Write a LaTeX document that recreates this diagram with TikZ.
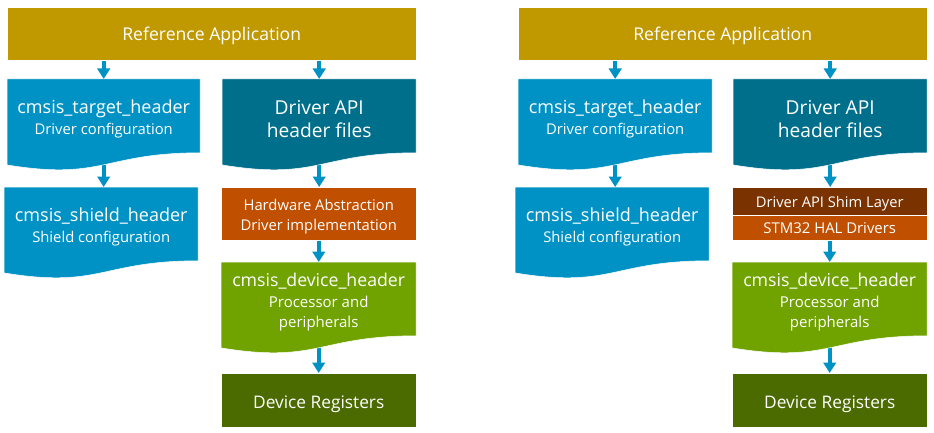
\documentclass[tikz,border=0pt]{standalone}
\usepackage{fontspec}
\setmainfont{Open Sans}
\usetikzlibrary{arrows.meta}
\pgfdeclarelayer{bg}
\pgfsetlayers{bg,main}
\definecolor{cgold}{RGB}{192,152,0}
\definecolor{cblue}{RGB}{0,146,196}
\definecolor{cteal}{RGB}{0,111,140}
\definecolor{corange}{RGB}{192,80,0}
\definecolor{cbrown}{RGB}{122,51,0}
\definecolor{cgreen}{RGB}{112,162,0}
\definecolor{cdkgreen}{RGB}{75,107,0}
\tikzset{
  box/.style={rectangle, draw=white, line width=0.5pt, text=white, inner sep=0pt, align=center, anchor=north west},
  docbox/.style={rectangle, text=white, inner sep=0pt, align=center, anchor=north west},
  arr/.style={draw=cblue, line width=3.6pt, -{Triangle[width=12.5pt,length=10.5pt]}},
}
\newcommand\fs[2]{\fontsize{#1}{#2}\selectfont}
% name, x, y, w, color, font, text
\newcommand\docnode[7]{%
  \filldraw[fill=#5, draw=white, line width=0.5pt] (#2,#3) -- ({#2+#4},#3) -- ({#2+#4},{#3+73.8})
    .. controls +({-#4/2},0) and +({#4/2},15.9) .. (#2,{#3+85.9}) -- cycle;
  \node[docbox, minimum width=#4pt, minimum height=79.8pt, font=#6] (#1) at (#2,#3) {#7};
}
\newcommand\tgttext{\fs{18}{21}cmsis\_target\_header\\\fs{14.8}{21}Driver configuration}
\newcommand\shdtext{\fs{18}{21}cmsis\_shield\_header\\\fs{14.8}{21}Shield configuration}
\newcommand\apitext{\fs{19.2}{23}Driver API\\\fs{19.2}{23}header files}
\newcommand\devtext{\fs{17.7}{21}cmsis\_device\_header\\\fs{15}{20}Processor and\\\fs{15}{20}peripherals}
\begin{document}
\begin{tikzpicture}[x=1pt,y=-1pt]
\useasboundingbox (0,0) rectangle (934,433);
% ---------- left ----------
\node[box, fill=cgold, minimum width=409pt, minimum height=53pt, font=\fs{17.6}{20}, text height=13pt, text depth=0pt] (topL) at (7,7) {Reference Application};
\docnode{tgtL}{7}{79}{193}{cblue}{\fs{14.8}{21}}{\tgttext}
\docnode{apiL}{222}{79}{194}{cteal}{\fs{19.2}{23}}{\apitext}
\docnode{shdL}{4}{187}{194}{cblue}{\fs{14.8}{21}}{\shdtext}
\node[box, fill=corange, minimum width=195pt, minimum height=53pt, font=\fs{14.8}{20.5}] (halL) at (221,187) {\fs{14.8}{20.5}\rule{0pt}{17.5pt}Hardware Abstraction\\\fs{14.8}{20.5}Driver implementation};
\docnode{devL}{221}{262}{195}{cgreen}{\fs{15}{20.5}}{\devtext}
\node[box, fill=cdkgreen, minimum width=195pt, minimum height=54pt, font=\fs{17.3}{20}, text height=15.5pt, text depth=0pt] (regL) at (221,373) {Device Registers};
% ---------- right ----------
\node[box, fill=cgold, minimum width=409pt, minimum height=53pt, font=\fs{17.6}{20}, text height=13pt, text depth=0pt] (topR) at (518,7) {Reference Application};
\docnode{tgtR}{518}{79}{194}{cblue}{\fs{14.8}{21}}{\tgttext}
\docnode{apiR}{733}{79}{194}{cteal}{\fs{19.2}{23}}{\apitext}
\docnode{shdR}{515}{187}{194}{cblue}{\fs{14.8}{21}}{\shdtext}
\node[box, fill=cbrown, minimum width=195pt, minimum height=28pt, font=\fs{14.7}{18}, text height=12pt, text depth=0pt] (shimR) at (732,187) {Driver API Shim Layer};
\node[box, fill=corange, minimum width=195pt, minimum height=25pt, font=\fs{14.9}{18}, text height=12pt, text depth=0pt] (halR) at (732,215) {STM32 HAL Drivers};
\docnode{devR}{732}{262}{195}{cgreen}{\fs{15}{20.5}}{\devtext}
\node[box, fill=cdkgreen, minimum width=195pt, minimum height=54pt, font=\fs{17.3}{20}, text height=15.5pt, text depth=0pt] (regR) at (732,373) {Device Registers};
% ---------- arrows ----------
\begin{pgfonlayer}{bg}
\fill[white] (0,0) rectangle (934,433);
\draw[arr] (topL.south -| tgtL.north) -- (tgtL.north);
\draw[arr] (topL.south -| apiL.north) -- (apiL.north);
\draw[arr] (tgtL.south) -- (tgtL.south |- shdL.north);
\draw[arr] (apiL.south) -- (apiL.south |- halL.north);
\draw[arr] (halL.south) -- (halL.south |- devL.north);
\draw[arr] (devL.south) -- (devL.south |- regL.north);
\draw[arr] (topR.south -| tgtR.north) -- (tgtR.north);
\draw[arr] (topR.south -| apiR.north) -- (apiR.north);
\draw[arr] (tgtR.south) -- (tgtR.south |- shdR.north);
\draw[arr] (apiR.south) -- (apiR.south |- shimR.north);
\draw[arr] (halR.south) -- (halR.south |- devR.north);
\draw[arr] (devR.south) -- (devR.south |- regR.north);
\end{pgfonlayer}
\end{tikzpicture}
\end{document}
